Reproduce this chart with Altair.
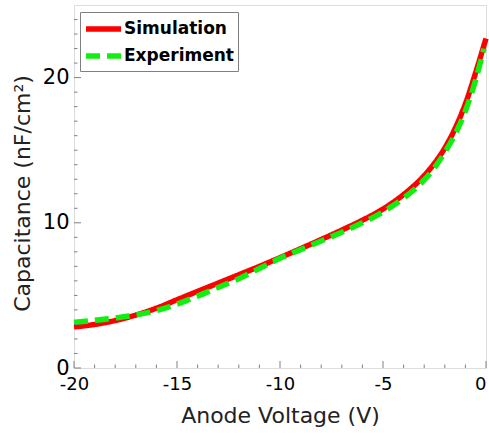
import altair as alt
import pandas as pd

sim_v = [-20, -19, -18, -17, -16, -15, -14, -13, -12, -11, -10, -9, -8, -7, -6, -5, -4, -3, -2.5, -2, -1.5, -1, -0.5, 0]
sim_c = [2.83, 3.0, 3.27, 3.65, 4.12, 4.7, 5.28, 5.85, 6.42, 7.0, 7.6, 8.22, 8.85, 9.5, 10.18, 10.95, 11.95, 13.25, 14.1, 15.15, 16.5, 18.2, 20.35, 22.7]
exp_v = [-20, -19, -18, -17, -16, -15, -14, -13, -12, -11, -10, -9, -8, -7, -6, -5, -4, -3, -2.5, -2, -1.5, -1, -0.5, -0.1]
exp_c = [3.15, 3.28, 3.45, 3.65, 3.95, 4.4, 4.95, 5.55, 6.15, 6.85, 7.55, 8.15, 8.75, 9.35, 10.0, 10.75, 11.7, 12.95, 13.8, 14.85, 16.1, 17.7, 19.85, 22.0]

series = ["Simulation", "Experiment"]
colors = ["#ff0000", "#11ee11"]

x_major = [-20, -15, -10, -5, 0]
x_minor = [v for v in range(-19, 0) if v % 5 != 0]
y_major = [0, 10, 20]
y_minor = [v for v in range(1, 25) if v % 10 != 0]

W, H = 412, 363
FONT = "DejaVu Sans"

df = pd.DataFrame(
    {"V": sim_v + exp_v, "C": sim_c + exp_c,
     "S": ["Simulation"] * len(sim_v) + ["Experiment"] * len(exp_v)}
)

xs = alt.Scale(domain=[-20, 0], nice=False)
ys = alt.Scale(domain=[0, 25], nice=False)

color = alt.Color(
    "S:N",
    scale=alt.Scale(domain=series, range=colors),
    sort=series,
    legend=alt.Legend(
        title=None, orient="none", legendX=6, legendY=7,
        strokeColor="#808080", fillColor="white", padding=4,
        labelFont=FONT, labelFontWeight="bold", labelFontSize=17, labelColor="black",
        symbolType="M-1.75,0H1.75", symbolSize=400, symbolStrokeWidth=5.5,
        symbolOffset=6.5, rowPadding=3, labelOffset=7.5,
    ),
)
dash = alt.StrokeDash(
    "S:N",
    scale=alt.Scale(domain=series, range=[[1, 0], [14, 7]]),
    sort=series,
    legend=None,
)

xaxis = alt.Axis(values=x_major, title="Anode Voltage (V)", ticks=False, domain=False, grid=False,
                 labelExpr="toString(datum.value)",
                 labelAlign={"condition": {"test": "datum.value == 0", "value": "right"}, "value": "center"},
                 labelFont=FONT, labelFontSize=18, labelColor="black", labelPadding=7, labelFlush=False,
                 titleFont=FONT, titleFontSize=22, titleFontWeight="normal", titleColor="#222222", titlePadding=12)
yaxis = alt.Axis(values=y_major, title="Capacitance (nF/cm²)", ticks=False, domain=False, grid=False,
                 labelExpr="toString(datum.value)",
                 labelFont=FONT, labelFontSize=21, labelColor="black", labelPadding=5, labelFlush=False,
                 titleFont=FONT, titleFontSize=22, titleFontWeight="normal", titleColor="#222222", titlePadding=8,
                 titleY=188)

base = alt.Chart(df)
sim_line = base.transform_filter(alt.datum.S == "Simulation").mark_line(strokeWidth=5.5, interpolate="monotone").encode(
    x=alt.X("V:Q", scale=xs, axis=xaxis),
    y=alt.Y("C:Q", scale=ys, axis=yaxis),
    color=color, strokeDash=dash,
)
exp_line = base.transform_filter(alt.datum.S == "Experiment").mark_line(strokeWidth=5.5, interpolate="monotone").encode(
    x=alt.X("V:Q", scale=xs),
    y=alt.Y("C:Q", scale=ys),
    color=color, strokeDash=dash,
)

tick_color = "#808080"
xmaj = alt.Chart(pd.DataFrame({"V": x_major})).mark_rule(color=tick_color, strokeWidth=1).encode(
    x=alt.X("V:Q", scale=xs), y=alt.value(H), y2=alt.value(H - 7))
xmin = alt.Chart(pd.DataFrame({"V": x_minor})).mark_rule(color=tick_color, strokeWidth=1).encode(
    x=alt.X("V:Q", scale=xs), y=alt.value(H), y2=alt.value(H - 3.5))
ymaj = alt.Chart(pd.DataFrame({"C": y_major})).mark_rule(color=tick_color, strokeWidth=1).encode(
    y=alt.Y("C:Q", scale=ys), x=alt.value(0), x2=alt.value(7))
ymin = alt.Chart(pd.DataFrame({"C": y_minor})).mark_rule(color=tick_color, strokeWidth=1).encode(
    y=alt.Y("C:Q", scale=ys), x=alt.value(0), x2=alt.value(3.5))

chart = alt.layer(sim_line, exp_line, xmaj, xmin, ymaj, ymin).properties(
    width=W, height=H,
    autosize=alt.AutoSizeParams(type="none"),
    padding={"left": 74, "top": 5, "right": 3, "bottom": 67},
).configure_view(stroke="#808080", strokeWidth=1.5).configure(background="white")

chart.save("out.html", embed_options={"renderer": "svg", "actions": False})
